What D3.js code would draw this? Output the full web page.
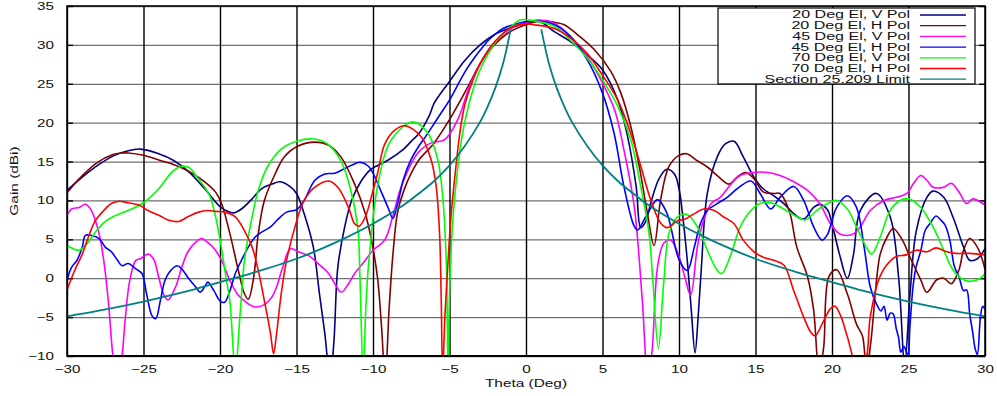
<!DOCTYPE html>
<html>
<head>
<meta charset="utf-8">
<script src="https://cdn.jsdelivr.net/npm/d3@7"></script>
<style>
    html, body { margin: 0; padding: 0; background: #fff; overflow: hidden; }
    svg { display: block; }
    text { font-family: "Liberation Sans", Arial, sans-serif; font-size: 11px; fill: #111; }
</style>
</head>
<body>
<svg id="chart" width="997" height="396"></svg>
<script>
// tick labels
const xTicks = [-30, -25, -20, -15, -10, -5, 0, 5, 10, 15, 20, 25, 30]
const yTicks = [-10, -5, 0, 5, 10, 15, 20, 25, 30, 35]

const seriesNames = ["20 Deg El, V Pol", "20 Deg El, H Pol", "45 Deg El, V Pol", "45 Deg El, H Pol",
    "70 Deg El, V Pol", "70 Deg El, H Pol", "Section 25.209 Limit"]

// [theta (deg), gain (dBi)]
const v20 = [[-30, 11.3], [-29, 13.0], [-28, 14.5], [-27, 15.7], [-26, 16.4], [-25.2, 16.6], [-24, 16.0], [-23, 15.1],
    [-22, 13.6], [-21, 11.5], [-20, 9.2], [-19.5, 8.6], [-19.1, 8.4], [-18.6, 8.9], [-17.9, 10.2], [-17.3, 11.5],
    [-16.6, 12.1], [-16.1, 12.4], [-15.5, 11.9], [-15, 10.9], [-14.5, 8.3], [-13.9, 4.0], [-13.5, -2.0], [-13.15, -7.1],
    [-12.8, -13], [-12.55, -8], [-12.3, 1.4], [-11.85, 6.6], [-11.4, 10.0], [-10.8, 12.4], [-10.2, 13.9], [-9.7, 14.5],
    [-9, 15.2], [-8, 16.6], [-7.5, 17.6], [-7, 18.6], [-6.3, 21.0], [-6, 22.5], [-5, 25.3], [-4, 28.0], [-3, 30.0],
    [-2, 31.4], [-1, 32.2], [0, 32.8], [0.5, 33.0], [1, 32.9], [1.85, 31.7], [2.93, 30.4], [4.0, 28.7], [5.0, 26.8],
    [6.0, 22.9], [6.6, 18.6], [7.2, 11.8], [7.5, 6.5], [7.8, 7.2], [8.2, 10], [8.7, 12.8], [9.2, 14.0], [9.7, 13.4],
    [10.0, 11.5], [10.3, 7], [10.54, 2.3], [10.8, -4], [11.05, -9.6], [11.25, -5], [11.45, 1], [11.85, 10.9],
    [12.5, 15.6], [13.04, 17.3], [13.6, 17.6], [14.2, 15.6], [14.9, 13.0], [15.5, 11.5], [16.2, 10.6], [16.85, 9.6],
    [17.5, 8.3], [18.15, 7.6], [18.8, 9.1], [19.2, 9.5], [19.7, 8.8], [20, 7.0], [20.5, 3], [21, 0], [21.4, 3],
    [21.85, 8.7], [22.9, 10.9], [23.8, 7.9], [24.35, 0.2], [24.75, -11], [25.1, -2], [25.5, 6], [26.2, 10.4],
    [26.6, 11.2], [27.3, 10.4], [27.9, 7.9], [28.6, 4.0], [29.0, 2.3], [29.5, 2.5], [30, 3.8]]

const h20 = [[-30, 11.0], [-29, 13.2], [-28, 14.9], [-27, 15.9], [-26.5, 16.1], [-26, 16.1], [-25, 15.8], [-24, 15.2],
    [-23, 14.6], [-22, 13.7], [-21, 12.4], [-20.3, 11.1], [-19.9, 9.6], [-19.35, 5.7], [-18.8, 1.0], [-18.4, -2.0],
    [-18.15, -2.7], [-17.8, 0.1], [-17.5, 5.7], [-17.1, 10.0], [-16.4, 13.4], [-15.8, 15.6], [-14.9, 17.0],
    [-13.8, 17.5], [-12.9, 17.1], [-12.1, 15.6], [-11.2, 12.1], [-10.5, 8.3], [-10.1, 4.9], [-9.7, 0], [-9.45, -6],
    [-9.2, -13], [-8.95, -4], [-8.7, 3], [-8.4, 8.4], [-8, 11.2], [-7.5, 13.5], [-7, 15.2], [-6, 17.4], [-5, 20.4],
    [-3.8, 24.6], [-2.7, 28.5], [-1.2, 31.5], [0, 32.6], [1, 33.1], [1.85, 32.9], [2.5, 32.6], [3.37, 31.3],
    [4.46, 29.4], [5.54, 26.6], [6.2, 23.8], [6.85, 19.5], [7.4, 14.4], [7.93, 8.4], [8.37, 4.2], [8.8, 10.1],
    [9.35, 14.4], [10, 15.8], [10.5, 16.0], [11.2, 15.1], [11.85, 14.3], [12.5, 13.2], [13.26, 12.1], [13.8, 13.0],
    [14.35, 13.6], [14.9, 12.8], [15.5, 11.1], [16.2, 10.9], [16.6, 10.9], [17.2, 8.7], [17.7, 4.0], [18.4, 0.2],
    [18.8, -4.1], [19.15, -12], [19.45, -9], [19.8, 0.2], [20.3, 1.1], [21, -2], [21.6, -5.9], [22.0, -7.5],
    [22.25, -12], [22.55, -8], [23.15, 3.1], [23.6, 5.3], [24.0, 6.4], [24.6, 4.9], [25.1, 2.7], [25.8, -0.2],
    [26.2, -1.8], [26.85, -0.2], [27.3, 0], [27.8, -0.7], [28.3, 1.1], [28.6, 3.6], [29.0, 5.1], [29.5, 4.0],
    [29.9, 1.9], [30, 1.1]]

const v45 = [[-30, 8.1], [-29.7, 8.9], [-29.2, 9.1], [-28.8, 9.5], [-28.4, 8.7], [-27.9, 5.7], [-27.6, 2.3],
    [-27.3, -2.9], [-27.0, -10], [-26.7, -14], [-26.4, -10], [-26.2, -5.4], [-25.9, -0.3], [-25.5, 2.3],
    [-25.2, 2.5], [-24.7, 3.1], [-24.35, 2.5], [-24.0, 0.1], [-23.7, -2.0], [-23.4, -2.8], [-22.9, -1.1],
    [-22.5, 1.4], [-22.1, 3.4], [-21.6, 4.6], [-21.2, 5.1], [-20.8, 4.6], [-20.3, 3.6], [-19.9, 2.3], [-19.35, -0.3],
    [-18.8, -2.2], [-18.15, -3.3], [-17.7, -3.7], [-17.1, -3.4], [-16.6, -2.4], [-16.3, -1.1], [-15.9, 1.4],
    [-15.4, 3.8], [-14.9, 3.4], [-14.2, 2.9], [-13.6, 1.9], [-12.9, 0.6], [-12.5, -0.7], [-12.07, -1.8],
    [-11.6, -0.7], [-11.2, 0.6], [-10.5, 2.3], [-10, 3.6], [-9.24, 4.9], [-8.7, 8], [-8.15, 11.8], [-7.07, 16.1],
    [-6.2, 17.4], [-5.33, 17.8], [-4.46, 20.4], [-3.6, 25.1], [-2.28, 29.8], [-0.98, 32.1], [0, 32.9], [0.76, 33.2],
    [1.85, 32.8], [2.9, 31.1], [4.0, 28.5], [5.0, 25.1], [5.8, 21.6], [6.4, 16.5], [7.07, 9.3], [7.6, -2.8],
    [7.95, -12], [8.2, -10], [8.6, 1.5], [9.0, 4.5], [9.46, 4.9], [10, 2.8], [10.4, 0.0], [10.76, -2.2], [11.2, 4.0],
    [11.6, 7.4], [12.1, 9.6], [12.7, 10.4], [13.4, 12.1], [14.0, 13.2], [14.9, 13.6], [15.8, 13.6], [16.6, 13.2],
    [17.5, 12.4], [18.4, 11.3], [19.2, 9.6], [19.9, 7.0], [20.5, 5.7], [21, 5.5], [21.4, 5.7], [21.85, 6.6],
    [22.5, 8.7], [23.4, 10.0], [24.2, 10.4], [24.9, 10.9], [25.3, 12.1], [25.8, 13.2], [26.2, 12.6], [26.6, 11.7],
    [27.3, 11.7], [27.8, 12.2], [28.3, 11.1], [28.8, 9.6], [29.2, 10.2], [29.7, 9.8], [30, 9.4]]

const h45 = [[-30, -0.2], [-29.7, 1.4], [-29.35, 2.3], [-29.0, 4.0], [-28.8, 5.5], [-28.4, 5.5], [-27.9, 5.1],
    [-27.5, 4.0], [-27.1, 3.4], [-26.7, 2.3], [-26.4, 1.6], [-26.0, 1.9], [-25.5, 1.2], [-25.1, 0.6], [-24.8, -2.0],
    [-24.45, -4.8], [-24.2, -5.2], [-23.9, -2.9], [-23.6, -0.3], [-23.3, 0.8], [-22.8, 1.6], [-22.5, 1.2],
    [-22.1, 0.1], [-21.6, -1.1], [-21.3, -1.8], [-21.0, -1.1], [-20.8, -0.5], [-20.4, -1.6], [-20.0, -2.9],
    [-19.7, -3.1], [-19.35, -1.6], [-19.0, 0.6], [-18.6, 2.3], [-18.15, 4.0], [-17.7, 5.3], [-17.3, 5.9],
    [-16.7, 6.6], [-16.2, 7.6], [-15.65, 8.5], [-15.0, 8.8], [-14.5, 10.0], [-13.8, 12.6], [-13.15, 13.4],
    [-12.5, 13.5], [-11.85, 14.1], [-11.2, 14.7], [-10.8, 14.9], [-10.3, 14.4], [-10, 13.5], [-9.5, 11.3],
    [-9.0, 9.0], [-8.7, 7.7], [-8.4, 9.5], [-8.0, 12.8], [-7.5, 15.3], [-7, 17.0], [-6.5, 18.4], [-6, 19.9],
    [-5.5, 21.4], [-5, 22.9], [-4.5, 24.7], [-4, 26.5], [-3.5, 28.0], [-3, 29.3], [-2.5, 30.5], [-2, 31.4],
    [-1.5, 32.1], [-1, 32.5], [0, 33.0], [0.5, 33.1], [1, 33.0], [1.85, 32.6], [2.9, 31.1], [4.0, 28.1], [5.0, 23.8],
    [5.76, 18.6], [6.4, 11.8], [7.07, 6.7], [7.3, 6.2], [7.8, 7.8], [8.6, 10.1], [9.2, 8.4], [10, 2.4], [10.54, 1.0],
    [11, 4.0], [11.4, 7.0], [11.85, 8.7], [12.5, 9.6], [13.15, 10.4], [13.8, 11.5], [14.7, 12.5], [15.3, 10.9],
    [16.0, 8.9], [16.6, 10.4], [17.5, 11.8], [18.15, 10.0], [18.8, 6.6], [19.35, 4.9], [19.7, 5.6], [20.0, 7.4],
    [20.3, 9.1], [21.0, 10.6], [21.6, 9.1], [22.1, 4.0], [22.5, -1.1], [22.9, -3.3], [23.2, -4.2], [23.4, -3.6],
    [23.6, -5.4], [23.8, -4.5], [24.0, -4.6], [24.2, -6.5], [24.35, -7.6], [24.5, -9.5], [24.7, -8.8], [24.95, -9.8],
    [25.1, -6], [25.3, -1], [25.5, 1.5], [25.8, 3.5], [26.1, 6.2], [26.4, 7.0], [26.8, 8.0], [27.1, 7.5],
    [27.4, 6.8], [27.7, 4.9], [28.0, 1.5], [28.3, 0.2], [28.6, -1.6], [28.8, -1.5], [29.0, -4.6], [29.2, -7],
    [29.35, -9], [29.5, -9.8], [29.7, -5.0], [29.85, -3.6], [30, -4]]

const v70 = [[-30, 4.2], [-29.6, 3.8], [-29.2, 3.6], [-28.8, 4.2], [-28.4, 5.2], [-28, 6.3], [-27.5, 7.3], [-27, 7.9],
    [-26, 8.7], [-25, 9.7], [-24, 11.5], [-23.5, 12.8], [-23, 13.9], [-22.5, 14.4], [-22, 14.2], [-21.5, 13.0],
    [-21, 11.7], [-20.65, 10.5], [-20.3, 8], [-20, 5.0], [-19.6, 0], [-19.35, -3], [-19.0, -12], [-18.7, -5],
    [-18.4, 2.3], [-17.9, 7.9], [-17.5, 11.3], [-16.9, 14.3], [-16.0, 16.6], [-15.0, 17.6], [-13.9, 17.9],
    [-13.0, 17.3], [-12.1, 15.1], [-11.5, 11.7], [-11.0, 6.6], [-10.85, 0], [-10.65, -12], [-10.45, -3],
    [-10.3, 1.5], [-9.67, 12.2], [-8.8, 17.8], [-7.4, 20.1], [-6.4, 18.6], [-5.76, 15.2], [-5.43, 10.1], [-5.2, 1.5],
    [-5.1, -12], [-5.0, -2], [-4.8, 7], [-4.5, 13.5], [-4.2, 18], [-3.9, 21], [-3.5, 24], [-3.0, 26.8], [-2.0, 30.3],
    [-1.0, 32.3], [-0.4, 33.2], [0.5, 33.1], [1.85, 32.4], [2.9, 30.6], [4.0, 28.3], [5.0, 25.5], [6.0, 22.1],
    [6.85, 17.8], [7.5, 11.8], [8.04, 5.8], [8.3, -0.6], [8.65, -9.0], [9.0, -0.6], [9.35, 5.8], [9.9, 7.9],
    [10.54, 8.2], [11.2, 6.6], [11.85, 3.6], [12.5, 1.0], [12.8, 0.6], [13.4, 3.1], [14.0, 6.6], [14.7, 8.7],
    [15.3, 9.6], [16.0, 9.7], [16.85, 8.9], [17.7, 7.9], [18.26, 7.5], [19.0, 8.7], [19.9, 9.8], [20.3, 10.0],
    [21.0, 8.9], [21.6, 6.6], [22.3, 3.8], [22.6, 3.1], [23.15, 5.3], [23.8, 8.7], [24.45, 10.0], [25.0, 10.2],
    [25.8, 9.1], [26.6, 6.6], [27.3, 3.6], [27.9, 1.1], [28.6, -0.2], [29.0, -0.4], [29.7, 0], [30, 0.6]]

const h70 = [[-30, -1.5], [-29.5, 1.0], [-29.0, 3.1], [-28.6, 5.3], [-28.15, 7.4], [-27.6, 8.7], [-27.1, 9.6],
    [-26.6, 9.9], [-26, 9.7], [-25.3, 9.4], [-24.7, 8.7], [-24.0, 8.1], [-23.4, 7.5], [-22.7, 7.3], [-22.1, 7.9],
    [-21.4, 8.5], [-20.8, 8.7], [-20.3, 8.6], [-19.7, 8.5], [-19.0, 7.9], [-18.4, 6.1], [-17.9, 4.0], [-17.5, 1.0],
    [-17.1, -2.9], [-16.7, -7.1], [-16.5, -9.7], [-16.3, -7.1], [-16.0, -2.0], [-15.65, 2.3], [-15.1, 6.6],
    [-14.5, 10.0], [-13.8, 11.7], [-12.9, 12.5], [-12.3, 11.7], [-11.6, 9.1], [-11.2, 7.0], [-10.9, 6.7],
    [-10.5, 7.9], [-10.1, 10.5], [-9.7, 13.5], [-9.24, 17.2], [-8.6, 19.0], [-7.93, 19.6], [-6.85, 18.2],
    [-6.2, 15.2], [-5.87, 11.8], [-5.65, 5.8], [-5.54, -2.8], [-5.45, -12], [-5.3, -5], [-5.1, 2], [-4.9, 8],
    [-4.6, 14], [-4.3, 19], [-4.0, 22.3], [-3.5, 25.3], [-3.0, 27.6], [-2.0, 30.5], [-1.0, 32.2], [0, 32.7],
    [0.5, 32.6], [1.85, 32.1], [2.9, 30.9], [4.0, 28.9], [5.0, 26.1], [6.0, 22.9], [6.85, 18.6], [7.5, 14.4],
    [8.15, 10.1], [8.8, 7.1], [9.24, 6.5], [9.9, 7.4], [10.4, 7.6], [11.0, 8.3], [11.6, 8.9], [12.3, 8.7],
    [12.9, 7.9], [13.6, 7.0], [14.2, 4.9], [14.9, 3.4], [15.5, 2.7], [16.2, 2.3], [16.85, 1.7], [17.5, -1.6],
    [18.15, -5.0], [18.6, -6.9], [18.9, -7.4], [19.35, -5.9], [19.9, -3.9], [20.2, -3.6], [20.6, -5], [21.0, -7.5],
    [21.6, -11], [22.1, -11], [22.5, -5], [23.0, -0.5], [23.5, 1.5], [24.2, 2.8], [24.85, 3.0], [25.5, 3.6],
    [26.2, 3.4], [26.8, 3.9], [27.5, 3.4], [28.1, 3.2], [29.0, 3.2], [30, 3.0]]

// limit line, left and right branches (null = gap)
const limit = [[-30, -4.9], [-28, -4.2], [-25, -3.0], [-22, -1.6], [-20, -0.5], [-18, 0.6], [-15, 2.5], [-12, 5.0],
    [-10, 7.0], [-8, 9.4], [-7, 10.9], [-6, 12.5], [-5, 14.5], [-4, 17.0], [-3, 20.1], [-2.5, 22.1], [-2, 24.5],
    [-1.5, 27.6], [-1, 32.0], [0, null], [1, 32.0], [1.5, 27.6], [2, 24.5], [2.5, 22.1], [3, 20.1], [4, 17.0],
    [5, 14.5], [6, 12.5], [7, 10.9], [8, 9.4], [10, 7.0], [12, 5.0], [15, 2.5], [18, 0.6], [20, -0.5], [22, -1.6],
    [25, -3.0], [28, -4.2], [30, -4.9]]

const series = [v20, h20, v45, h45, v70, h70, limit]
const colors = ["#000080", "#800000", "#ff00ff", "#0000ff", "#00ff00", "#ff0000", "#008080"]

const width = 997
const height = 396
const margin = {top: 6, right: 12, bottom: 40, left: 67}
const innerWidth = width - margin.left - margin.right
const innerHeight = height - margin.top - margin.bottom
const wide = 1.38   // the original uses horizontally stretched glyphs

const xScale = d3.scaleLinear().domain([-30, 30]).range([0, innerWidth])
const yScale = d3.scaleLinear().domain([-10, 35]).range([innerHeight, 0])

// stretch a text around its own anchor point
const widen = (sel, k) => sel.each(function () {
    const t = d3.select(this)
    const x = +t.attr("x") || 0
    t.attr("x", x / k).attr("transform", `scale(${k}, 1)`)
})

// axis used only for its lines
const lineAxis = (g, axis) => g.call(axis)
    .call(g => g.select(".domain").remove())
    .call(g => g.selectAll("text").remove())

const svg = d3.select("#chart")
const graph = svg.append("g").attr("transform", `translate(${margin.left}, ${margin.top})`)

graph.append("clipPath").attr("id", "plot-clip")
    .append("rect").attr("width", innerWidth).attr("height", innerHeight)

// horizontal grid
graph.append("g")
    .call(lineAxis, d3.axisLeft(yScale).tickValues(yTicks).tickSize(-innerWidth))
    .selectAll("line").attr("stroke", "#707070").attr("stroke-width", 1.3)

// vertical grid
graph.append("g")
    .attr("transform", `translate(0, ${innerHeight})`)
    .call(lineAxis, d3.axisBottom(xScale).tickValues(xTicks).tickSize(-innerHeight))
    .selectAll("line").attr("stroke", "#000").attr("stroke-width", 1.4)

// short inner ticks on both sides
graph.append("g")
    .call(lineAxis, d3.axisRight(yScale).tickValues(yTicks).tickSize(6))
    .selectAll("line").attr("stroke", "#000").attr("stroke-width", 1.4)
graph.append("g")
    .attr("transform", `translate(${innerWidth}, 0)`)
    .call(lineAxis, d3.axisLeft(yScale).tickValues(yTicks).tickSize(6))
    .selectAll("line").attr("stroke", "#000").attr("stroke-width", 1.4)

// tick labels
graph.append("g")
    .attr("transform", `translate(0, ${innerHeight})`)
    .call(d3.axisBottom(xScale).tickValues(xTicks).tickSize(0).tickPadding(9))
    .call(g => g.select(".domain").remove())
    .selectAll("text")
    .attr("font-size", 11).attr("font-family", "Liberation Sans, Arial, sans-serif").attr("fill", "#111")
    .call(widen, wide)

graph.append("g")
    .call(d3.axisLeft(yScale).tickValues(yTicks).tickSize(0).tickPadding(13))
    .call(g => g.select(".domain").remove())
    .selectAll("text")
    .attr("font-size", 11).attr("font-family", "Liberation Sans, Arial, sans-serif").attr("fill", "#111")
    .call(widen, wide)

const line = d3.line()
    .defined(d => d[1] !== null)
    .x(d => xScale(d[0]))
    .y(d => yScale(d[1]))
    .curve(d3.curveCatmullRom.alpha(0.5))

graph.append("g")
    .attr("clip-path", "url(#plot-clip)")
    .selectAll("path")
    .data(series)
    .join("path")
    .attr("fill", "none")
    .attr("stroke", (d, i) => colors[i])
    .attr("stroke-width", (d, i) => i === 6 ? 1.8 : 1.6)
    .attr("stroke-linejoin", "round")
    .attr("d", line)

// frame
graph.append("rect")
    .attr("width", innerWidth).attr("height", innerHeight)
    .attr("fill", "none").attr("stroke", "#000").attr("stroke-width", 1.5)
graph.append("line")
    .attr("x1", 0).attr("x2", innerWidth).attr("y1", innerHeight).attr("y2", innerHeight)
    .attr("stroke", "#000").attr("stroke-width", 2)

// legend
const legend = svg.append("g").attr("transform", "translate(718, 8)")
legend.append("rect")
    .attr("width", 257).attr("height", 76)
    .attr("fill", "#fff").attr("stroke", "#000").attr("stroke-width", 1.2)

const rows = legend.selectAll("g.row")
    .data(seriesNames)
    .join("g")
    .attr("class", "row")
    .attr("transform", (d, i) => `translate(0, ${7 + i * 10.7})`)

rows.append("text")
    .attr("x", 192).attr("y", 3.4)
    .attr("text-anchor", "end")
    .attr("font-size", 9.2)
    .text(d => d)
    .call(widen, 1.46)

rows.append("line")
    .attr("x1", 202).attr("x2", 248)
    .attr("stroke", (d, i) => colors[i])
    .attr("stroke-width", 1.3)

// axis titles
svg.append("g")
    .attr("transform", `translate(${margin.left + innerWidth / 2}, 387)`)
    .append("text")
    .attr("text-anchor", "middle")
    .text("Theta (Deg)")
    .call(widen, 1.4)

svg.append("g")
    .attr("transform", `translate(18, ${margin.top + innerHeight / 2}) rotate(-90)`)
    .append("text")
    .attr("text-anchor", "middle")
    .text("Gain (dBi)")
    .call(widen, 1.4)
</script>
</body>
</html>
